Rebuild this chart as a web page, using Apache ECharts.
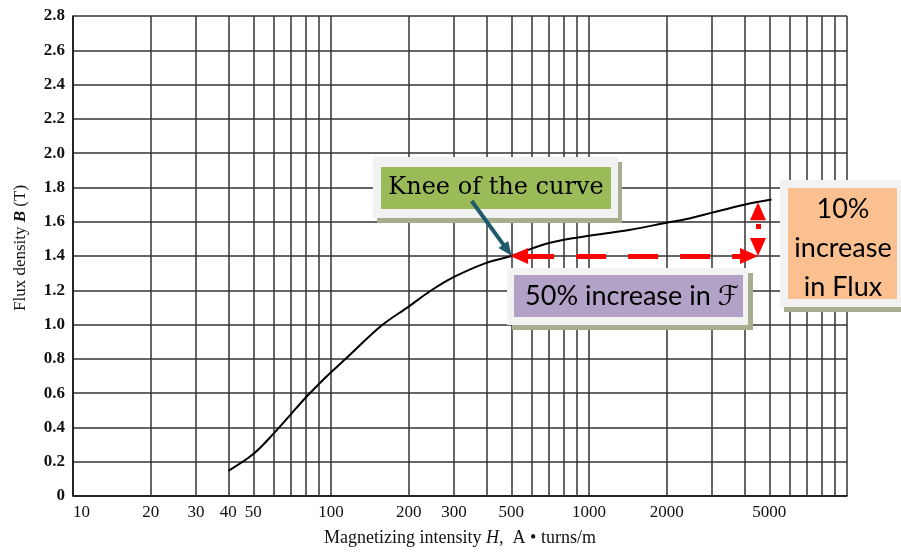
<!DOCTYPE html>
<html><head><meta charset="utf-8">
<script src="https://cdn.jsdelivr.net/npm/echarts@6/dist/echarts.min.js"></script>
<style>html,body{margin:0;padding:0;background:#fff}#c{width:901px;height:552px}</style>
</head><body><div id="c"></div>
<script>
// ---- data ----
const H = [40, 50, 60, 70, 80, 90, 100, 114, 157, 200, 245, 300, 400, 500, 600, 700, 800, 1000, 1430, 2000, 2450, 3000, 4000, 5100];
const B = [0.147, 0.245, 0.365, 0.478, 0.576, 0.655, 0.722, 0.80, 0.994, 1.105, 1.20, 1.278, 1.36, 1.40, 1.443, 1.476, 1.495, 1.518, 1.552, 1.594, 1.619, 1.653, 1.699, 1.729];
const minorGridH = [20, 30, 40, 50, 60, 70, 80, 90, 200, 300, 400, 500, 600, 700, 800, 900, 2000, 3000, 4000, 5000, 6000, 7000, 8000, 9000];
const minorLabelH = [20, 30, 40, 50, 200, 300, 500, 2000, 5000];
// annotation arrow anchors (data coordinates of arrow-head centres)
const mmfArrowFrom = [536, 1.4];
const mmfArrowTo = [4172, 1.4];
const fluxArrowFrom = [4519, 1.452];
const fluxArrowTo = [4519, 1.661];
const kneeArrowFrom = [351, 1.721];
const kneeArrowTo = [483, 1.434];

const serif = '"Liberation Serif", "Times New Roman", serif';
const sans = 'Lato, "DejaVu Sans", sans-serif';
const gridColor = '#333';
const txt = '#111';
const shadow = '#a6ae8f';
const frame = '#f2f2f2';

const chart = echarts.init(document.getElementById('c'), null, {renderer: 'canvas'});
const option = {
  animation: false,
  backgroundColor: '#fff',
  grid: {left: 73, right: 54, top: 16, bottom: 54},
  xAxis: {
    type: 'log', logBase: 10, min: 10, max: 10000,
    name: 'Magnetizing intensity {i|H},  A \u2022 turns/m',
    nameLocation: 'middle', nameGap: 33,
    nameTextStyle: {fontFamily: serif, fontSize: 18, color: txt,
      rich: {i: {fontFamily: serif, fontSize: 18, color: txt, fontStyle: 'italic'}}},
    axisLine: {show: true, lineStyle: {color: '#111', width: 1.5}},
    axisTick: {show: false},
    axisLabel: {fontFamily: serif, fontSize: 17, color: txt, margin: 8, alignMinLabel: 'left',
      formatter: v => (Math.round(v) >= 10000 ? '' : String(Math.round(v)))},
    splitLine: {show: true, lineStyle: {color: gridColor, width: 1.5}},
    minorTick: {show: false}, minorSplitLine: {show: false}
  },
  yAxis: {
    type: 'value', min: 0, max: 2.8, interval: 0.2,
    name: 'Flux density {i|B} (T)', nameLocation: 'middle', nameGap: 44,
    nameTextStyle: {fontFamily: serif, fontSize: 17, color: txt, padding: [0, 0, 0, 16],
      rich: {i: {fontFamily: serif, fontSize: 17, color: txt, fontStyle: 'italic', fontWeight: 'bold'}}},
    axisLine: {show: true, lineStyle: {color: '#111', width: 1.5}},
    axisTick: {show: false},
    axisLabel: {fontFamily: serif, fontSize: 17, color: txt, margin: 8, fontWeight: 'bold',
      formatter: v => (Math.abs(v) < 1e-9 ? '0' : v.toFixed(1))},
    splitLine: {show: true, lineStyle: {color: gridColor, width: 1.5}}
  },
  series: [
    {
      type: 'line', name: 'B-H', data: H.map((h, i) => [h, B[i]]),
      smooth: 0.35, showSymbol: false, silent: true, z: 30,
      lineStyle: {color: '#000', width: 2},
      markLine: {
        silent: true, z: 1, symbol: ['none', 'none'], animation: false,
        lineStyle: {color: gridColor, width: 1.5, type: 'solid'},
        emphasis: {disabled: true},
        label: {show: true, position: 'start', distance: 8, fontFamily: serif, fontSize: 17, color: txt,
          formatter: p => { const h = minorGridH[p.dataIndex]; return minorLabelH.indexOf(h) >= 0 ? String(h) : ''; }},
        data: minorGridH.map(h => ({xAxis: h}))
      }
    },
    {
      type: 'line', name: 'mmf', data: [], silent: true,
      markLine: {
        silent: true, z: 100, animation: false,
        symbol: ['triangle', 'triangle'], symbolSize: [16, 18],
        lineStyle: {color: '#ff0000', width: 5, type: [30, 22], dashOffset: 47, opacity: 1},
        itemStyle: {color: '#ff0000'},
        label: {show: false}, emphasis: {disabled: true},
        data: [[{coord: mmfArrowFrom}, {coord: mmfArrowTo}]]
      }
    },
    {
      type: 'line', name: 'flux', data: [], silent: true,
      markLine: {
        silent: true, z: 100, animation: false,
        symbol: ['triangle', 'triangle'], symbolSize: [16, 18],
        lineStyle: {color: '#ff0000', width: 5, type: [5, 13], opacity: 1},
        itemStyle: {color: '#ff0000'},
        label: {show: false}, emphasis: {disabled: true},
        data: [[{coord: fluxArrowFrom}, {coord: fluxArrowTo}]]
      }
    },
    {
      type: 'line', name: 'knee', data: [], silent: true,
      markLine: {
        silent: true, z: 100, animation: false,
        symbol: ['none', 'triangle'], symbolSize: [12, 14],
        lineStyle: {color: '#1f5b6b', width: 4, type: 'solid', opacity: 1},
        itemStyle: {color: '#1f5b6b'},
        label: {show: false}, emphasis: {disabled: true},
        data: [[{coord: kneeArrowFrom}, {coord: kneeArrowTo}]]
      }
    }
  ],
  graphic: [
    {type: 'rect', silent: true, z: 50, shape: {x: 377, y: 162, width: 245, height: 61}, style: {fill: shadow}},
    {type: 'rect', silent: true, z: 51, shape: {x: 373, y: 157, width: 245, height: 61}, style: {fill: frame}},
    {type: 'rect', silent: true, z: 52, shape: {x: 381, y: 167, width: 230, height: 42}, style: {fill: '#9bbb59'}},
    {type: 'text', silent: true, z: 53, x: 496, y: 188,
      style: {text: 'Knee of the curve', fontFamily: '"DejaVu Serif", serif', fontSize: 24, fill: '#000', align: 'center', verticalAlign: 'middle'}},

    {type: 'rect', silent: true, z: 50, shape: {x: 512, y: 273, width: 241, height: 57}, style: {fill: shadow}},
    {type: 'rect', silent: true, z: 51, shape: {x: 507, y: 268, width: 241, height: 57}, style: {fill: frame}},
    {type: 'rect', silent: true, z: 52, shape: {x: 514, y: 275, width: 229, height: 42}, style: {fill: '#b3a2c7'}},
    {type: 'text', silent: true, z: 53, x: 632, y: 296,
      style: {text: '50% increase in \u2131', fontFamily: sans, fontSize: 27, fill: '#000', align: 'center', verticalAlign: 'middle'}},

    {type: 'rect', silent: true, z: 50, shape: {x: 784, y: 185, width: 117, height: 127}, style: {fill: shadow}},
    {type: 'rect', silent: true, z: 51, shape: {x: 780, y: 180, width: 121, height: 127}, style: {fill: frame}},
    {type: 'rect', silent: true, z: 52, shape: {x: 788, y: 188, width: 109, height: 111}, style: {fill: '#fac090'}},
    {type: 'text', silent: true, z: 53, x: 843, y: 248,
      style: {text: '10%\nincrease\nin Flux', fontFamily: sans, fontSize: 27, lineHeight: 39, fill: '#000', align: 'center', verticalAlign: 'middle'}}
  ]
};
chart.setOption(option);
</script>
</body></html>
